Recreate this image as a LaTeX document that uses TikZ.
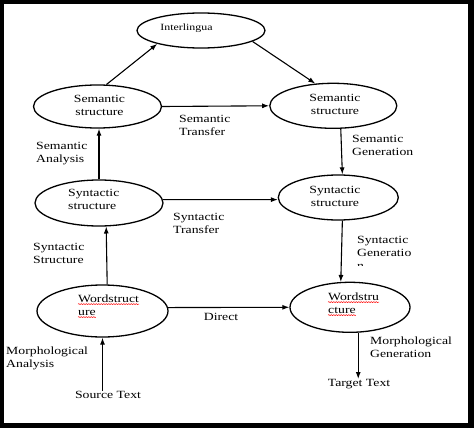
\documentclass[tikz,border=0pt]{standalone}
\usepackage{fontspec}
\setmainfont{Liberation Serif}[FakeStretch=1.25]
\usetikzlibrary{shapes.geometric,arrows.meta,decorations.pathmorphing}
\begin{document}
\begin{tikzpicture}[x=1pt,y=-1pt,
  ell/.style={draw, line width=1.3pt, ellipse, inner sep=0pt},
  txt/.style={font=\fontsize{11}{13}\selectfont, inner sep=0pt, align=left},
  arr/.style={line width=1.1pt, -{Latex[length=7pt,width=5pt]}},
  squig/.style={red, line width=0.5pt, decorate, decoration={snake, amplitude=0.5pt, segment length=2.5pt}}]
\fill[black] (0,0) rectangle (474,428);
\fill[white] (4,4.5) rectangle (468,422.5);
\useasboundingbox (0,0) rectangle (474,428);

% ellipses
\node[ell, minimum width=128pt, minimum height=35pt] (interl) at (201,30.5) {};
\node[ell, minimum width=128pt, minimum height=43pt] (seml) at (97.5,106.5) {};
\node[ell, minimum width=127pt, minimum height=45pt] (semr) at (333.3,105.8) {};
\node[ell, minimum width=128pt, minimum height=46pt] (synl) at (99,203) {};
\node[ell, minimum width=120pt, minimum height=45pt] (synr) at (338.3,197.5) {};
\node[ell, minimum width=131pt, minimum height=52pt] (wordl) at (102.5,311) {};
\node[ell, minimum width=120pt, minimum height=50pt] (wordr) at (350,307.3) {};

% texts inside ellipses
\node[txt, font=\fontsize{9.5}{11}\selectfont] (interlt) at (186.5,28) {Interlingua};
\node[txt, align=center] (semlt) at (99.5,105) {Semantic\\structure};
\node[txt, align=center] (semrt) at (335,104) {Semantic\\structure};
\node[txt, anchor=west] (synlt) at (68,199) {Syntactic\\structure};
\node[txt, align=center] (synrt) at (335,196) {Syntactic\\structure};
\node[txt, anchor=base west] (wl1) at (78,302.5) {Wordstruct};
\node[txt, anchor=base west] (wl2) at (78,315.5) {ure};
\node[txt, anchor=base west] (wr1) at (328,300.5) {Wordstru};
\node[txt, anchor=base west] (wr2) at (328,313.5) {cture};
\draw[squig] ([yshift=-1.6pt]wl1.base west) -- ([yshift=-1.6pt]wl1.base east);
\draw[squig] ([yshift=-1.6pt]wl2.base west) -- ([yshift=-1.6pt]wl2.base east);
\draw[squig] ([yshift=-1.6pt]wr1.base west) -- ([yshift=-1.6pt]wr1.base east);
\draw[squig] ([yshift=-1.6pt]wr2.base west) -- ([yshift=-1.6pt]wr2.base east);

% labels
\node[txt, anchor=west] (lst) at (179,125) {Semantic\\Transfer};
\node[txt, anchor=west] (lsa) at (36,154) {Semantic\\Analysis};
\node[txt, anchor=west] (lsg) at (352,145) {Semantic\\Generation};
\node[txt, anchor=west] (lyt) at (173,223) {Syntactic\\Transfer};
\node[txt, anchor=west] (lys) at (33,253.5) {Syntactic\\Structure};
\node[txt, anchor=west] (lyg) at (357,246.5) {Syntactic\\Generatio};
\begin{scope}
\clip (350,260) rectangle (380,265.5);
\node[txt, anchor=base west] (lygn) at (357,269) {n};
\end{scope}
\node[txt] (ldir) at (221,317) {Direct};
\node[txt, anchor=west] (lma) at (6,358) {Morphological\\Analysis};
\node[txt, anchor=west] (lmg) at (370,347.5) {Morphological\\Generation};
\node[txt] (src) at (108,395) {Source Text};
\node[txt] (tgt) at (359,384) {Target Text};

% arrows
\draw[arr] (seml.68) -- (interl.197);
\draw[arr] (interl.348) -- (semr.129);
\draw[arr] (seml.east) -- (semr.west);
\draw[arr] (synl.north) -- (synl.north |- seml.south);
\draw[arr] (semr.288) -- (synr.80);
\draw[arr] (synl.3) -- (synr.182);
\draw[arr] (wordl.80) -- (synl.287);
\draw[arr] (synr.280) -- (wordr.110);
\draw[arr] (wordl.3) -- (wordr.west);
\draw[arr] (wordl.south |- src.north) -- (wordl.south);
\draw[arr] (wordr.288) -- (wordr.288 |- tgt.north);
\end{tikzpicture}
\end{document}
